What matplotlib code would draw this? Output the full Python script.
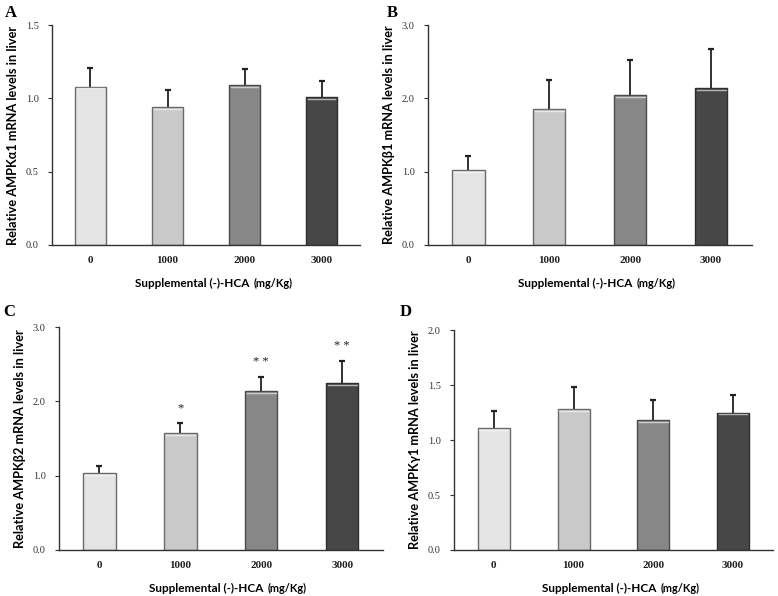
import numpy as np
import matplotlib.pyplot as plt

doses = ["0", "1000", "2000", "3000"]
colors = ["#e4e4e4", "#c9c9c9", "#878787", "#474747"]
edges = ["#6a6a6a", "#6a6a6a", "#4a4a4a", "#2e2e2e"]

a1_mean = [1.08, 0.94, 1.09, 1.01]
a1_err = [0.13, 0.12, 0.11, 0.11]
b1_mean = [1.02, 1.85, 2.04, 2.14]
b1_err = [0.20, 0.40, 0.48, 0.53]
b2_mean = [1.03, 1.57, 2.14, 2.25]
b2_err = [0.10, 0.14, 0.19, 0.29]
b2_sig = ["", "*", "* *", "* *"]
g1_mean = [1.11, 1.28, 1.18, 1.25]
g1_err = [0.15, 0.20, 0.18, 0.16]

panels = [
    ("A", [0.0668, 0.589, 0.396, 0.369], a1_mean, a1_err, None, 1.5, 0.5,
     "Relative AMPK\u03b11 mRNA levels in liver", (0.006, 0.978)),
    ("B", [0.550, 0.589, 0.416, 0.369], b1_mean, b1_err, None, 3.0, 1.0,
     "Relative AMPK\u03b21 mRNA levels in liver", (0.497, 0.978)),
    ("C", [0.0758, 0.0772, 0.416, 0.374], b2_mean, b2_err, b2_sig, 3.0, 1.0,
     "Relative AMPK\u03b22 mRNA levels in liver", (0.004, 0.476)),
    ("D", [0.5835, 0.0772, 0.41, 0.369], g1_mean, g1_err, None, 2.0, 0.5,
     "Relative AMPK\u03b31 mRNA levels in liver", (0.514, 0.476)),
]

fig = plt.figure(figsize=(7.78, 5.96), dpi=100)
x = np.arange(len(doses))

for letter, rect, mean, err, sig, ymax, step, ylab, lpos in panels:
    ax = fig.add_axes(rect)
    mean = np.array(mean)
    err = np.array(err)
    ax.bar(x, mean, width=0.4, color=colors, edgecolor=edges, linewidth=1.0, zorder=2)
    # light rim on top of each bar
    for xi, m in zip(x, mean):
        ax.plot([xi - 0.18, xi + 0.18], [m - ymax * 0.008] * 2, color="white", lw=1.0, alpha=0.6, zorder=3)
    # upper error bars only
    ax.vlines(x, mean, mean + err, color="#222222", lw=1.3, zorder=1)
    ax.plot(x, mean + err, ls="none", marker="_", ms=4, mew=1.6, color="#222222", zorder=1)
    if sig:
        for xi, m, e, s in zip(x, mean, err, sig):
            if s:
                ax.text(xi, m + e + ymax * 0.04, s, ha="center", va="bottom",
                        family="Liberation Serif", fontsize=9, color="#222222")
    ax.set_xlim(-0.5, 3.5)
    ax.set_ylim(0, ymax)
    ticks = np.arange(0, ymax + step / 2, step)
    ax.set_yticks(ticks)
    ax.set_yticklabels(["%.1f" % v for v in ticks], family="Liberation Serif", fontsize=7.5, color="#333333")
    ax.set_xticks(x)
    ax.set_xticklabels(doses, family="Liberation Serif", fontsize=8, fontweight="bold", color="#222222")
    ax.tick_params(axis="x", length=0, pad=8)
    ax.tick_params(axis="y", length=3, width=0.8, color="#333333", pad=6.5)
    for s in ["top", "right"]:
        ax.spines[s].set_visible(False)
    for s in ["left", "bottom"]:
        ax.spines[s].set_color("#333333")
        ax.spines[s].set_linewidth(1.0)
    ax.set_ylabel(ylab, family="Lato", fontweight="bold", fontsize=9.2)
    ax.yaxis.set_label_coords(-33 / (rect[2] * 778), 0.5)
    ax.annotate("Supplemental (-)-HCA", xy=(0.5, 0), xycoords="axes fraction",
                xytext=(31, -27.5), textcoords="offset points", ha="right", va="center",
                family="Lato", fontweight="bold", fontsize=8.5)
    ax.annotate("(mg/Kg)", xy=(0.5, 0), xycoords="axes fraction",
                xytext=(34, -27.5), textcoords="offset points", ha="left", va="center",
                family="Lato", fontweight="bold", fontsize=7.8)
    fig.text(lpos[0], lpos[1], letter, family="Liberation Serif", fontweight="bold", fontsize=12,
             ha="left", va="center")

plt.savefig("out.png", dpi=100)
